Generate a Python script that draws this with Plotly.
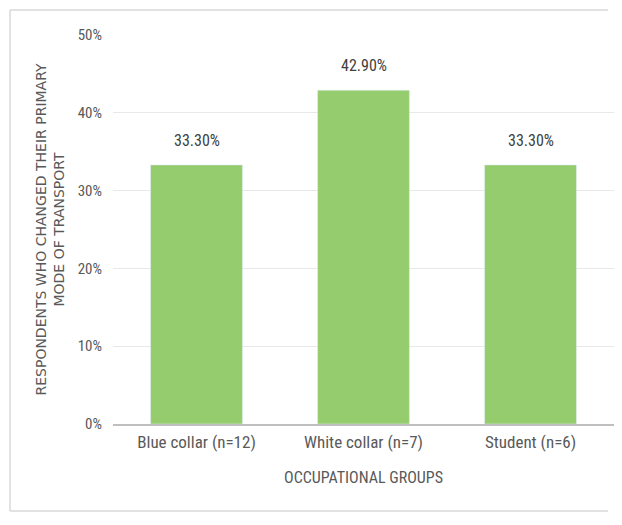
import plotly.graph_objects as go

categories = ["Blue collar (n=12)", "White collar (n=7)", "Student (n=6)"]
values = [0.333, 0.429, 0.333]
y_ticks = [0, 0.1, 0.2, 0.3, 0.4, 0.5]
y_tick_labels = ["0%", "10%", "20%", "30%", "40%", "50%"]

FONT = "Liberation Sans Narrow, Roboto Condensed, Arial Narrow, sans-serif"
GRAY = "#595959"

fig = go.Figure(
    go.Bar(
        x=categories,
        y=values,
        marker_color="#95cc6d",
        width=0.55,
        hoverinfo="skip",
    )
)

annotations = [
    dict(
        x=c,
        y=v,
        xref="x",
        yref="y",
        text=f"{v * 100:.2f}%",
        showarrow=False,
        yanchor="bottom",
        yshift=13,
        font=dict(family=FONT, size=16, color="#404040"),
    )
    for c, v in zip(categories, values)
]

W, H = 606, 504
PW, PH = 501, 389
L, T = 105, 27
bx0 = (2 - L) / PW
bx1 = (W - 6 - L) / PW
by0 = (T + PH - (H - 1)) / PH
by1 = (T + PH - 2) / PH
border = dict(color="#d9d9d9", width=1.5)

fig.update_layout(
    width=W,
    height=H,
    margin=dict(l=L, r=W - L - PW, t=T, b=H - T - PH),
    paper_bgcolor="white",
    plot_bgcolor="white",
    showlegend=False,
    font=dict(family=FONT, color=GRAY),
    annotations=annotations,
    xaxis=dict(
        automargin=False,
        showgrid=False,
        showline=True,
        linecolor="#bfbfbf",
        linewidth=2,
        ticks="",
        ticklabelstandoff=2,
        tickfont=dict(family=FONT, size=17, color=GRAY),
        title=dict(text="OCCUPATIONAL GROUPS", font=dict(family=FONT, size=16, color=GRAY), standoff=20),
    ),
    yaxis=dict(
        automargin=False,
        range=[0, 0.5],
        tickvals=y_ticks,
        ticktext=y_tick_labels,
        showgrid=True,
        gridcolor="#e8e8e8",
        zeroline=False,
        ticks="",
        ticklabelstandoff=10,
        tickfont=dict(family=FONT, size=15, color=GRAY),
        title=dict(
            text="RESPONDENTS WHO CHANGED THEIR PRIMARY<br>MODE OF TRANSPORT",
            font=dict(family="DejaVu Sans, sans-serif", size=14, color=GRAY),
            standoff=9,
        ),
    ),
    shapes=[
        dict(type="line", xref="paper", yref="paper", x0=bx0, x1=bx1, y0=by1, y1=by1, line=border, layer="below"),
        dict(type="line", xref="paper", yref="paper", x0=bx0, x1=bx0, y0=by0, y1=by1, line=border, layer="below"),
        dict(type="line", xref="paper", yref="paper", x0=bx0, x1=bx1, y0=by0, y1=by0, line=border, layer="below"),
    ],
)

fig.write_html("out.html", config={"displayModeBar": False})
